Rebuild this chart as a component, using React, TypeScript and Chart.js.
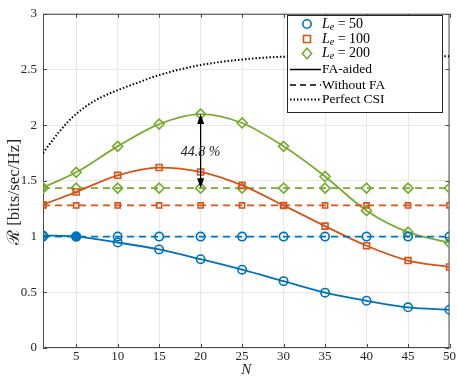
import React, { useEffect, useRef } from "react";
import { Chart, registerables } from "chart.js";

Chart.register(...registerables);

const N_MARK = [1, 5, 10, 15, 20, 25, 30, 35, 40, 45, 50];
const FA_50 = [1.01, 1.0, 0.947, 0.885, 0.797, 0.703, 0.6, 0.497, 0.424, 0.365, 0.344];
const FA_100 = [1.286, 1.4, 1.55, 1.62, 1.58, 1.46, 1.28, 1.094, 0.918, 0.785, 0.727];
const FA_200 = [1.44, 1.577, 1.81, 2.01, 2.1, 2.02, 1.81, 1.54, 1.233, 1.04, 0.944];
const NOFA_50 = [1.0, 1.0, 1.0, 1.0, 1.0, 1.0, 1.0, 1.0, 1.0, 1.0, 1.0];
const NOFA_100 = [1.28, 1.28, 1.28, 1.28, 1.28, 1.28, 1.28, 1.28, 1.28, 1.28, 1.28];
const NOFA_200 = [1.435, 1.435, 1.435, 1.435, 1.435, 1.435, 1.435, 1.435, 1.435, 1.435, 1.435];
const N_CSI = [1, 2, 3, 4, 5, 6, 7, 8, 10, 12, 15, 20, 25, 30, 35, 40, 45, 50];
const CSI = [1.75, 1.85, 1.945, 2.03, 2.1, 2.16, 2.21, 2.25, 2.315, 2.37, 2.45, 2.54, 2.59, 2.615, 2.62, 2.62, 2.62, 2.62];
const X_TICKS = [5, 10, 15, 20, 25, 30, 35, 40, 45, 50];
const Y_TICKS = [0, 0.5, 1, 1.5, 2, 2.5, 3];
const LE_LABELS = ["50", "100", "200"];
const GAIN_LABEL = "44.8 %";
const GAIN_N = 20;

const BLUE = "#0072BD";
const ORANGE = "#D95319";
const GREEN = "#77AC30";
const SERIF = "'Liberation Serif', 'DejaVu Serif', serif";

const pts = (xs: number[], ys: number[]) => xs.map((x, i) => ({ x, y: ys[i] }));

function drawMarker(ctx: CanvasRenderingContext2D, style: string, x: number, y: number, color: string) {
  ctx.save();
  ctx.strokeStyle = color;
  ctx.lineWidth = 1.6;
  ctx.beginPath();
  if (style === "circle") ctx.arc(x, y, 4.2, 0, Math.PI * 2);
  else if (style === "rect") ctx.rect(x - 3.5, y - 3.5, 7, 7);
  else {
    ctx.moveTo(x, y - 5.2);
    ctx.lineTo(x + 4.6, y);
    ctx.lineTo(x, y + 5.2);
    ctx.lineTo(x - 4.6, y);
    ctx.closePath();
  }
  ctx.stroke();
  ctx.restore();
}

const framePlugin = {
  id: "frame",
  beforeDatasetsDraw(chart: any) {
    const { ctx, chartArea: a, scales } = chart;
    ctx.save();
    ctx.strokeStyle = "#4a4a4a";
    ctx.lineWidth = 1;
    ctx.strokeRect(a.left + 0.5, a.top + 0.5, a.right - a.left - 1, a.bottom - a.top - 1);
    ctx.beginPath();
    for (const v of X_TICKS) {
      const px = Math.round(scales.x.getPixelForValue(v)) + 0.5;
      ctx.moveTo(px, a.bottom);
      ctx.lineTo(px, a.bottom - 4);
      ctx.moveTo(px, a.top);
      ctx.lineTo(px, a.top + 4);
    }
    for (const v of Y_TICKS) {
      const py = Math.round(scales.y.getPixelForValue(v)) + 0.5;
      ctx.moveTo(a.left, py);
      ctx.lineTo(a.left + 4, py);
      ctx.moveTo(a.right, py);
      ctx.lineTo(a.right - 4, py);
    }
    ctx.stroke();
    // axis titles
    ctx.fillStyle = "#262626";
    ctx.textAlign = "center";
    ctx.textBaseline = "middle";
    ctx.font = "italic 15px " + SERIF;
    ctx.fillText("N", (a.left + a.right) / 2, 370);
    ctx.translate(15, 192);
    ctx.rotate(-Math.PI / 2);
    ctx.font = "17px " + SERIF;
    ctx.fillText("\u211B [bits/sec/Hz]", 0, 0);
    ctx.restore();
  },
  afterDatasetsDraw(chart: any) {
    const { ctx, scales } = chart;
    // arrow annotation
    const ax = scales.x.getPixelForValue(GAIN_N);
    const y1 = scales.y.getPixelForValue(NOFA_200[4]);
    const y2 = scales.y.getPixelForValue(FA_200[4]);
    ctx.save();
    ctx.strokeStyle = "#000";
    ctx.fillStyle = "#000";
    ctx.lineWidth = 1.3;
    ctx.beginPath();
    ctx.moveTo(ax, y1 - 6);
    ctx.lineTo(ax, y2 + 6);
    ctx.stroke();
    ctx.beginPath();
    ctx.moveTo(ax, y2);
    ctx.lineTo(ax - 3.5, y2 + 10);
    ctx.lineTo(ax + 3.5, y2 + 10);
    ctx.closePath();
    ctx.fill();
    ctx.beginPath();
    ctx.moveTo(ax, y1);
    ctx.lineTo(ax - 3.5, y1 - 10);
    ctx.lineTo(ax + 3.5, y1 - 10);
    ctx.closePath();
    ctx.fill();
    ctx.font = "italic 14px " + SERIF;
    ctx.textAlign = "center";
    ctx.textBaseline = "middle";
    ctx.fillStyle = "#262626";
    ctx.fillText(GAIN_LABEL, ax, scales.y.getPixelForValue(1.76));
    ctx.restore();

    // legend
    ctx.save();
    const L = 287, T = 15, R = 443, B = 113;
    ctx.fillStyle = "#fff";
    ctx.fillRect(L, T, R - L, B - T);
    ctx.strokeStyle = "#262626";
    ctx.lineWidth = 1;
    ctx.strokeRect(L + 0.5, T + 0.5, R - L - 1, B - T - 1);
    const rows = [24, 39, 53.5, 69.5, 85, 99.5];
    const tx = 322;
    const markers = [
      ["circle", BLUE],
      ["rect", ORANGE],
      ["diamond", GREEN],
    ];
    ctx.fillStyle = "#000";
    ctx.textBaseline = "middle";
    ctx.textAlign = "left";
    for (let i = 0; i < 3; i++) {
      const y = rows[i];
      drawMarker(ctx, markers[i][0], 307, y, markers[i][1]);
      let x = tx;
      ctx.font = "italic 14px " + SERIF;
      ctx.fillText("L", x, y);
      x += ctx.measureText("L").width;
      ctx.font = "italic 10px " + SERIF;
      ctx.fillText("e", x, y + 3);
      x += ctx.measureText("e").width;
      ctx.font = "14px " + SERIF;
      ctx.fillText(" = " + LE_LABELS[i], x, y);
    }
    const lineStyles: [number[], string][] = [
      [[], "FA-aided"],
      [[6, 4], "Without FA"],
      [[1.5, 2], "Perfect CSI"],
    ];
    for (let i = 0; i < 3; i++) {
      const y = rows[i + 3];
      ctx.beginPath();
      ctx.setLineDash(lineStyles[i][0]);
      ctx.lineWidth = i === 2 ? 1.8 : 1.5;
      ctx.strokeStyle = "#000";
      ctx.moveTo(290, y);
      ctx.lineTo(321, y);
      ctx.stroke();
      ctx.setLineDash([]);
      ctx.font = "13.5px " + SERIF;
      ctx.fillText(lineStyles[i][1], tx, y);
    }
    ctx.restore();
  },
};

export default function App() {
  const ref = useRef<HTMLCanvasElement | null>(null);
  useEffect(() => {
    if (!ref.current) return;
    const solid = (data: number[], color: string, style: string, filledIdx = -1) => ({
      data: pts(N_MARK, data),
      borderColor: color,
      borderWidth: 1.8,
      pointStyle: style,
      pointRadius: style === "rectRot" ? 5 : 4.2,
      pointBorderWidth: 1.6,
      pointBorderColor: color,
      pointBackgroundColor: N_MARK.map((_, i) => (i === filledIdx ? color : "rgba(0,0,0,0)")),
      cubicInterpolationMode: "monotone",
      fill: false,
    });
    const dashed = (data: number[], color: string, style: string) => ({
      data: pts(N_MARK, data),
      borderColor: color,
      borderWidth: 1.8,
      borderDash: [7, 5],
      pointStyle: style,
      pointRadius: style === "rectRot" ? 5 : style === "rect" ? 3.6 : 4.2,
      pointBorderWidth: 1.6,
      pointBorderColor: color,
      pointBackgroundColor: "rgba(0,0,0,0)",
      fill: false,
    });
    const chart = new Chart(ref.current, {
      type: "line",
      data: {
        datasets: [
          {
            data: pts(N_CSI, CSI),
            borderColor: "#000",
            borderWidth: 2,
            borderDash: [1.5, 2],
            pointRadius: 0,
            cubicInterpolationMode: "monotone",
            fill: false,
          },
          solid(FA_50, BLUE, "circle", 1),
          dashed(NOFA_50, BLUE, "circle"),
          solid(FA_100, ORANGE, "rect"),
          dashed(NOFA_100, ORANGE, "rect"),
          solid(FA_200, GREEN, "rectRot"),
          dashed(NOFA_200, GREEN, "rectRot"),
        ] as any,
      },
      options: {
        animation: false,
        responsive: false,
        maintainAspectRatio: false,
        layout: { padding: { top: 8, right: 6, left: 0, bottom: 0 } },
        plugins: { legend: { display: false }, tooltip: { enabled: false } },
        scales: {
          x: {
            type: "linear",
            min: 1,
            max: 50,
            afterBuildTicks: (s: any) => {
              s.ticks = X_TICKS.map((v) => ({ value: v }));
            },
            afterFit: (s: any) => {
              s.height = 42;
            },
            grid: { color: "#e8e8e8", drawTicks: false },
            border: { display: false },
            ticks: {
              padding: 1,
              color: "#262626",
              font: { family: SERIF, size: 13 },
              maxRotation: 0,
              callback: (v: any) => String(v),
            },
          },
          y: {
            type: "linear",
            min: 0,
            max: 3,
            afterBuildTicks: (s: any) => {
              s.ticks = Y_TICKS.map((v) => ({ value: v }));
            },
            afterFit: (s: any) => {
              s.width = 43;
            },
            grid: { color: "#e8e8e8", drawTicks: false },
            border: { display: false },
            ticks: {
              padding: 6,
              color: "#262626",
              font: { family: SERIF, size: 13 },
              callback: (v: any) => String(v),
            },
          },
        },
      } as any,
      plugins: [framePlugin],
    });
    return () => chart.destroy();
  }, []);
  return (
    <div style={{ position: "fixed", left: 0, top: 0, width: 457, height: 390, background: "#fff" }}>
      <canvas ref={ref} width={457} height={390} style={{ width: 457, height: 390, display: "block" }} />
    </div>
  );
}
